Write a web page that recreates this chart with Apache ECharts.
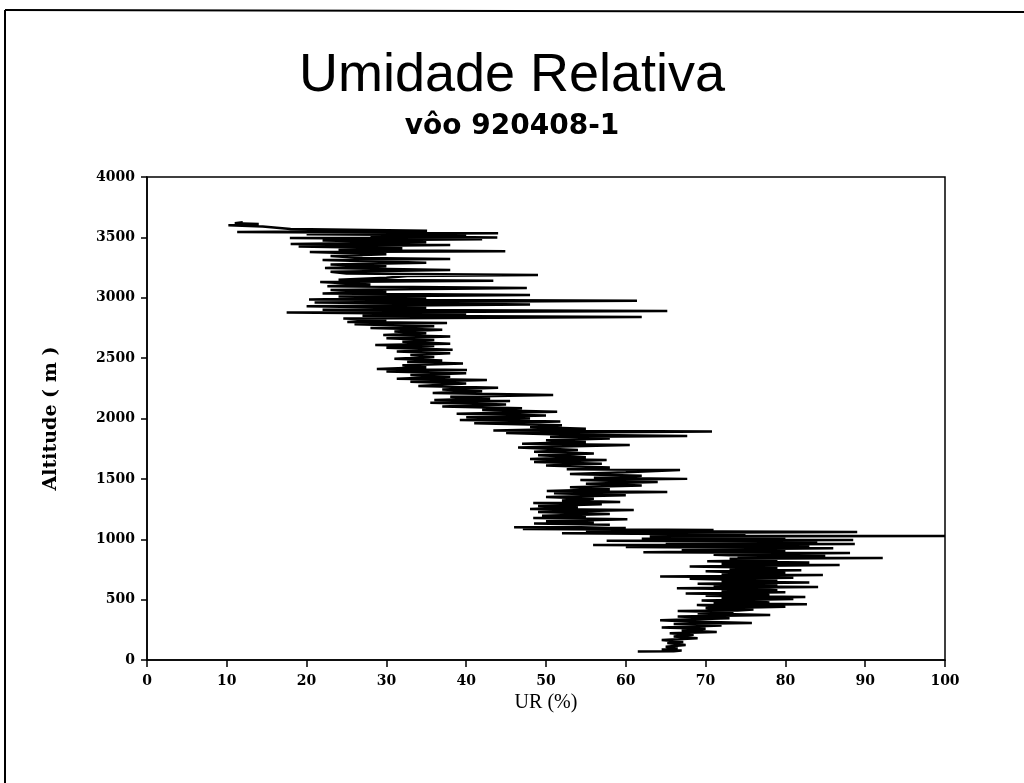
<!DOCTYPE html>
<html>
<head>
<meta charset="utf-8">
<script src="https://cdn.jsdelivr.net/npm/echarts@6/dist/echarts.min.js"></script>
<style>
  html, body { margin: 0; padding: 0; background: #fff; }
  #chart { width: 1024px; height: 783px; }
</style>
</head>
<body>
<div id="chart"></div>
<script>
// Flight profile 920408-1: altitude (m) and relative humidity (%) in sampling order
const altitude = [
  70, 73, 78, 88, 96, 110, 125, 140, 150, 165, 180, 195, 210, 222, 232, 245, 258, 270, 285, 298,
  306, 318, 330, 345, 360, 373, 385, 395,
  405, 410, 418, 424, 430, 436, 442, 448, 455, 458, 462, 467, 472, 477, 482, 487, 492, 498, 505, 510,
  515, 518, 522, 527, 532, 537, 542, 546, 550, 556, 562, 567, 572, 578, 585, 590, 595, 600, 604, 608,
  612, 617, 622, 627, 632, 637, 642, 647, 652, 657, 662, 667, 672, 677, 682, 687, 692, 698, 704, 709,
  714, 719, 724, 729, 734, 739, 744, 749, 754, 759, 764, 770, 775, 781, 787, 792, 797, 802, 808, 813,
  818, 824, 830, 838, 845, 848, 852, 857, 862, 867, 872, 879, 886,
  893, 905, 915, 925, 935, 944, 952, 960, 970, 980, 988, 994, 1005, 1015, 1022, 1027, 1030, 1040, 1050,
  1060, 1068, 1076, 1085, 1093,
  1100, 1110, 1120, 1130, 1140, 1150, 1165, 1176, 1185, 1195, 1210, 1225, 1242, 1250, 1262, 1275, 1290, 1300, 1308,
  1320, 1335, 1350, 1365, 1380, 1391, 1400, 1415, 1430, 1445, 1460, 1475, 1490, 1500, 1510, 1525, 1540, 1555, 1573,
  1580, 1595, 1610, 1625, 1640, 1656, 1665, 1680, 1695, 1710, 1725, 1740, 1760, 1780, 1790, 1805, 1820, 1835, 1846,
  1855, 1865, 1880, 1892, 1900, 1915, 1930, 1945, 1960, 1975, 1987,
  2000, 2010, 2025, 2040, 2055, 2070, 2085, 2100, 2115, 2130, 2145, 2153, 2165, 2180, 2195, 2211, 2225, 2240, 2255,
  2270, 2290, 2305, 2318, 2330, 2345, 2360, 2375, 2390, 2401, 2410, 2425, 2440, 2455, 2467, 2480, 2495, 2510, 2525,
  2540, 2555, 2570, 2585, 2600, 2608, 2620, 2635, 2650, 2665, 2680, 2691, 2705, 2720, 2735, 2750, 2765, 2780, 2790,
  2800, 2815, 2828,
  2840, 2850, 2865, 2878, 2890, 2900, 2915, 2930, 2945, 2960, 2975, 2985, 3000, 3010, 3022, 3035, 3050, 3065, 3080,
  3095, 3110, 3130, 3140, 3150, 3165, 3180, 3188, 3200, 3215, 3230, 3246, 3260, 3275, 3290, 3312, 3320, 3330, 3345,
  3360, 3378, 3385, 3395, 3410, 3425, 3436, 3445, 3460, 3475, 3485, 3494, 3500, 3510, 3518, 3525, 3535, 3544, 3555,
  3570, 3590, 3600, 3610, 3618, 3625
];
const humidity = [
  61.5, 66, 67, 64.5, 66.5, 65, 67.5, 65.2, 67.2, 64.5, 69, 66, 68.5, 65.5, 71.4, 67, 70, 64.5, 72, 66,
  75.8, 68, 64.3, 73, 66.5, 78.1, 69, 73.5,
  66.5, 74, 76, 71, 70, 77, 80, 72, 68.9, 76, 82.7, 73, 71, 78, 77, 72, 69.5, 76, 81, 73,
  72, 78, 82.5, 74, 70, 77, 78, 72, 67.5, 75, 80, 73, 72, 79, 75, 71, 66.4, 76, 84.1, 74,
  71, 78, 79, 72, 69, 77, 83, 73, 72, 79, 77, 72, 68, 76, 81, 73, 64.3, 76, 84.7, 74,
  72, 78, 80, 73, 70, 77, 82, 74, 73, 79, 78, 72, 68, 77, 86.8, 74, 72, 78, 83, 74,
  70.2, 77, 79, 73, 92.2, 76, 74, 80, 85, 73, 71, 78, 88.1,
  62.2, 80, 67, 86, 60, 83, 55.9, 88.7, 65, 84, 57.6, 88.5, 62, 80, 63, 100, 64, 75, 52,
  89, 55, 71, 47.1, 60,
  46, 52, 58, 48.5, 56, 50, 60.2, 48.4, 55, 49.5, 58, 49, 61, 48, 54, 49, 57, 48.4, 59.3,
  52, 56, 50, 60, 51, 65.2, 50.1, 58, 53, 62, 55, 64, 54.3, 67.7, 56, 62, 53, 60, 66.8,
  52.6, 58, 50, 57, 48.5, 57.6, 48, 55, 49, 56, 48.5, 54, 46.5, 60.5, 47, 55, 50, 58, 50.5,
  67.7, 53, 45, 70.8, 43.4, 55, 48, 52, 41, 51.8, 39.2,
  48, 40, 50, 38.8, 51.4, 42, 47, 37, 45, 35.5, 45.5, 36, 43, 38, 50.9, 35.8, 42, 37, 44,
  34, 40, 33, 42.6, 31.3, 38, 33, 40, 30, 40.1, 28.8, 35, 32, 39.6, 32.6, 37, 31, 36, 33,
  38, 31.3, 38.3, 30, 36, 28.6, 38, 32, 36, 30, 38, 29.6, 35, 31, 37, 28, 36, 26, 37.6,
  25.1, 30, 24.6,
  62, 27, 40, 17.5, 65.2, 22, 35, 20, 48, 21, 61.4, 20.3, 35, 24, 48, 22, 30, 23, 47.6,
  22.6, 28, 21.7, 43.4, 24, 30, 32.6, 49, 25, 23, 38, 22.3, 30, 23, 35, 22, 38, 27, 23,
  30, 20.4, 44.9, 24, 32, 19, 38, 18, 35, 22, 42, 17.9, 43.9, 28, 40, 20, 44, 11.3, 35.1,
  18, 14.5, 10.2, 14, 11, 12
];
const xTicks = { min: 0, max: 100, step: 10 };
const yTicks = { min: 0, max: 4000, step: 500 };

const titleText = 'Umidade Relativa';
const subtitleText = 'vôo 920408-1';
const xName = 'UR (%)';
const yName = 'Altitude ( m )';

const points = altitude.map((a, i) => [humidity[i], a]);

const chart = echarts.init(document.getElementById('chart'), null, { renderer: 'canvas' });

const tickFont = {
  fontFamily: 'DejaVu Serif', fontWeight: 'bold', fontSize: 14, color: '#000',
  formatter: (v) => String(v)
};

chart.setOption({
  backgroundColor: '#fff',
  animation: false,
  title: [
    {
      text: titleText,
      left: 'center',
      top: 44,
      textStyle: { fontFamily: 'Liberation Sans', fontWeight: 'normal', fontSize: 54, color: '#000' }
    },
    {
      text: subtitleText,
      left: 'center',
      top: 108,
      textStyle: { fontFamily: 'DejaVu Sans', fontWeight: 'bold', fontSize: 28, color: '#000' }
    }
  ],
  graphic: [
    // page frame along the left and top edges
    { type: 'line', shape: { x1: 5, y1: 10, x2: 5, y2: 783 }, style: { stroke: '#000', lineWidth: 2 } },
    { type: 'line', shape: { x1: 5, y1: 10, x2: 1024, y2: 12 }, style: { stroke: '#000', lineWidth: 2 } }
  ],
  grid: {
    left: 147, right: 79, top: 177, bottom: 123,
    show: true, borderColor: '#000', borderWidth: 1.5, backgroundColor: 'transparent'
  },
  xAxis: {
    type: 'value',
    min: xTicks.min, max: xTicks.max, interval: xTicks.step,
    name: xName,
    nameLocation: 'middle',
    nameGap: 22,
    nameTextStyle: { fontFamily: 'Liberation Serif', fontSize: 20, color: '#000', verticalAlign: 'top' },
    axisLine: { show: true, lineStyle: { color: '#000', width: 1.5 } },
    axisTick: { show: true, inside: false, length: 7, lineStyle: { color: '#000', width: 1.5 } },
    axisLabel: Object.assign({ margin: 14 }, tickFont),
    splitLine: { show: false }
  },
  yAxis: {
    type: 'value',
    min: yTicks.min, max: yTicks.max, interval: yTicks.step,
    name: yName,
    nameLocation: 'middle',
    nameRotate: 90,
    nameGap: 86,
    nameTextStyle: { fontFamily: 'DejaVu Serif', fontWeight: 'bold', fontSize: 19, color: '#000' },
    axisLine: { show: true, lineStyle: { color: '#000', width: 1.5 } },
    axisTick: { show: true, inside: false, length: 6, lineStyle: { color: '#000', width: 1.5 } },
    axisLabel: Object.assign({ margin: 12 }, tickFont),
    splitLine: { show: false }
  },
  series: [
    {
      type: 'line',
      data: points,
      showSymbol: false,
      symbol: 'none',
      clip: true,
      lineStyle: { color: '#000', width: 2.5 }
    }
  ]
});
</script>
</body>
</html>
